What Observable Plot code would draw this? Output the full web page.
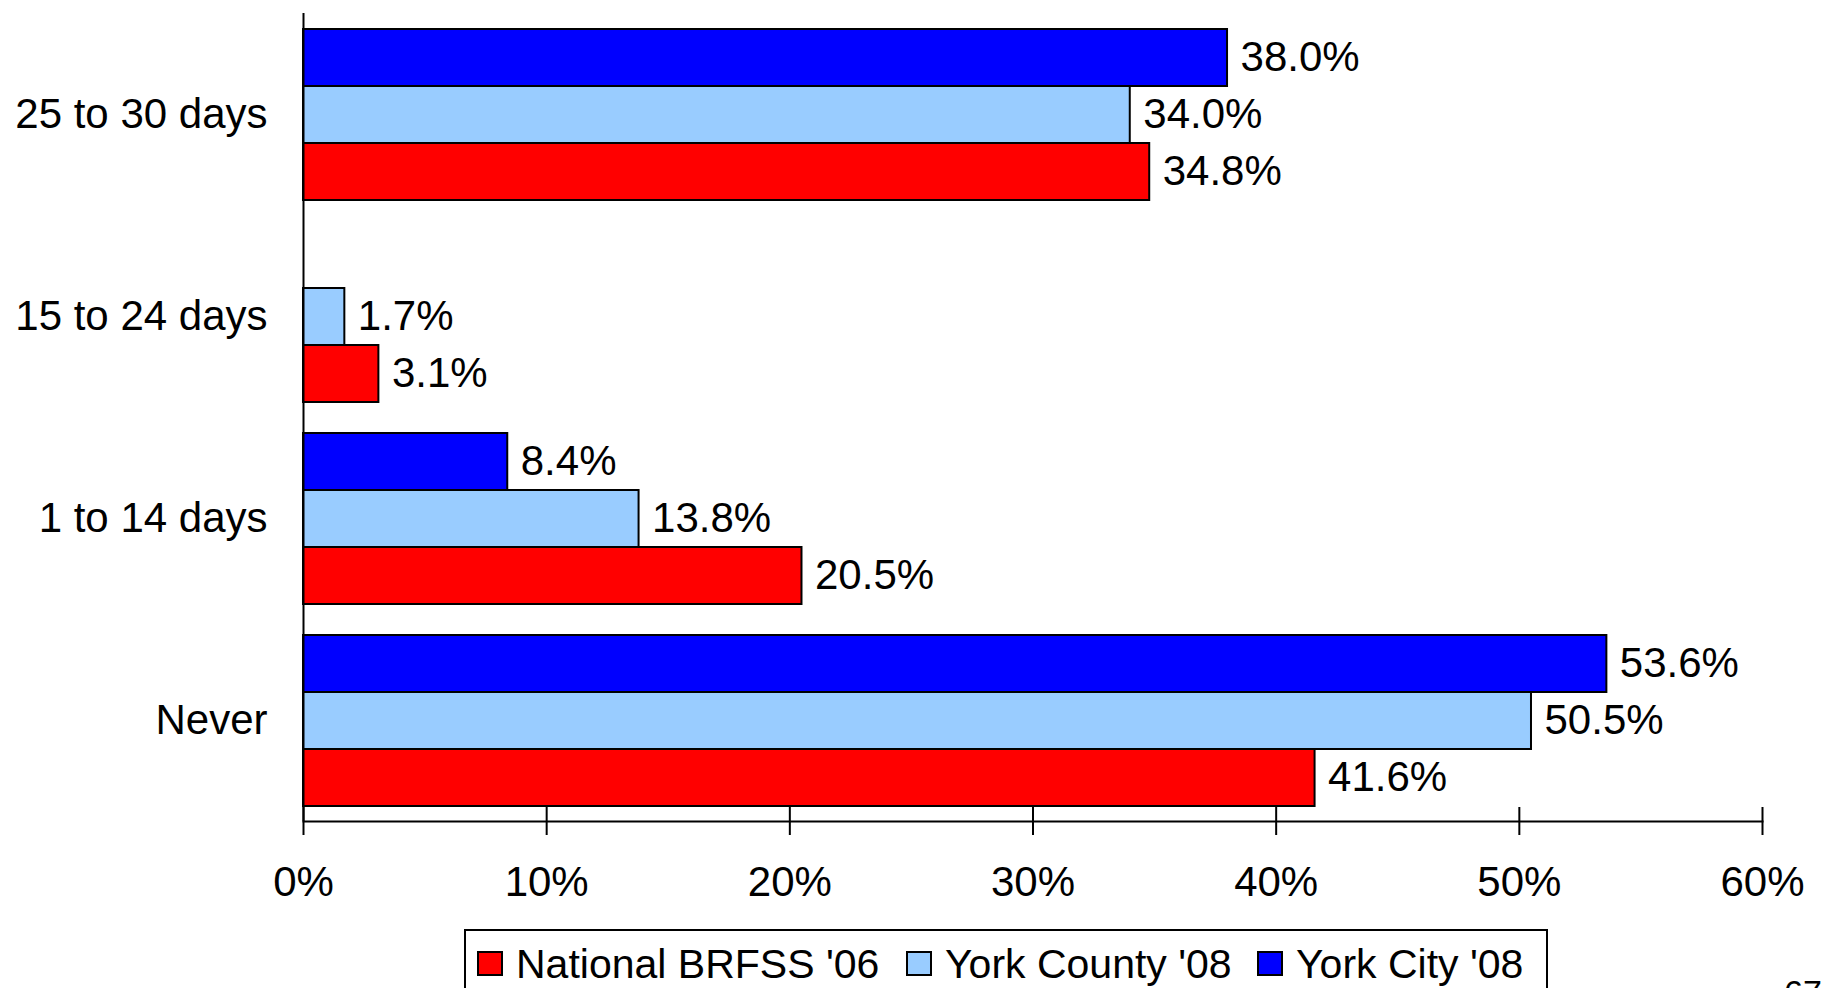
<!DOCTYPE html>
<html>
<head>
<meta charset="utf-8">
<script src="https://cdn.jsdelivr.net/npm/d3@7"></script>
<script src="https://cdn.jsdelivr.net/npm/@observablehq/plot@0.6"></script>
<style>
  html, body { margin: 0; padding: 0; background: #fff; overflow: hidden; }
  #wrap { position: relative; width: 1831px; height: 988px; font-family: "Liberation Sans", Arial, sans-serif; color: #000; }
  #chart { position: absolute; left: 0; top: 0; }
  #legend { position: absolute; left: 464px; top: 929px; width: 1084px; height: 100px; box-sizing: border-box;
            border: 2px solid #000; }
  .item { position: absolute; top: 12.5px; display: flex; align-items: center; font-size: 41px; line-height: 40px; height: 40px; white-space: nowrap; }
  .sw { width: 26px; height: 25px; box-sizing: border-box; border: 2px solid #000; margin-right: 13px; }
  #page { position: absolute; left: 1784px; top: 975px; font-size: 34px; line-height: 34px; }
</style>
</head>
<body>
<div id="wrap">
  <div id="chart"></div>
  <div id="legend"></div>
  <div id="page">67</div>
</div>
<script>
const categories = ["25 to 30 days", "15 to 24 days", "1 to 14 days", "Never"];
const series = ["National BRFSS '06", "York County '08", "York City '08"];
const national = [34.8, 3.1, 20.5, 41.6];
const yorkCounty = [34.0, 1.7, 13.8, 50.5];
const yorkCity = [38.0, null, 8.4, 53.6];
const colors = ["#FF0000", "#99CCFF", "#0000FF"];
const xTicks = [0, 10, 20, 30, 40, 50, 60];

const seriesValues = [national, yorkCounty, yorkCity];
const data = [];
categories.forEach((c, i) => {
  seriesValues.forEach((arr, j) => {
    if (arr[i] != null) data.push({category: c, series: series[j], value: arr[i]});
  });
});

const chart = Plot.plot({
  width: 1831,
  height: 930,
  marginLeft: 303,
  marginRight: 69,
  marginTop: 11,
  marginBottom: 108,
  style: {fontFamily: "'Liberation Sans', Arial, sans-serif", fontSize: "42px", color: "black", background: "white"},
  x: {domain: [0, 60]},
  y: {domain: [series[2], series[1], series[0]], paddingInner: 0, paddingOuter: 0.257, axis: null},
  fy: {domain: categories, padding: 0},
  color: {domain: series, range: colors},
  marks: [
    Plot.barX(data, {fy: "category", y: "series", x: "value", fill: "series", stroke: "black", strokeWidth: 2}),
    Plot.text(data, {fy: "category", y: "series", x: "value", text: d => d.value.toFixed(1) + "%",
      textAnchor: "start", dx: 13, fontSize: 42, fill: "black"}),
    Plot.ruleX([0], {stroke: "black", strokeWidth: 2}),
    Plot.frame({anchor: "bottom", facetAnchor: "bottom", stroke: "black", strokeWidth: 2}),
    Plot.axisFy({anchor: "left", tickSize: 0, tickPadding: 36, fontSize: 42, label: null, fill: "black"}),
    Plot.axisX({ticks: xTicks, tickFormat: d => d + "%", tickSize: 28, insetBottom: 14, tickPadding: 31,
      fontSize: 42, label: null, strokeWidth: 2, stroke: "black", fill: "black"})
  ]
});
document.getElementById("chart").appendChild(chart);

const legend = document.getElementById("legend");
const legendLeft = [11, 440, 791];
series.forEach((s, i) => {
  const item = document.createElement("div");
  item.className = "item";
  item.style.left = legendLeft[i] + "px";
  const sw = document.createElement("div");
  sw.className = "sw";
  sw.style.background = colors[i];
  const t = document.createElement("span");
  t.textContent = s;
  item.appendChild(sw);
  item.appendChild(t);
  legend.appendChild(item);
});
</script>
</body>
</html>
